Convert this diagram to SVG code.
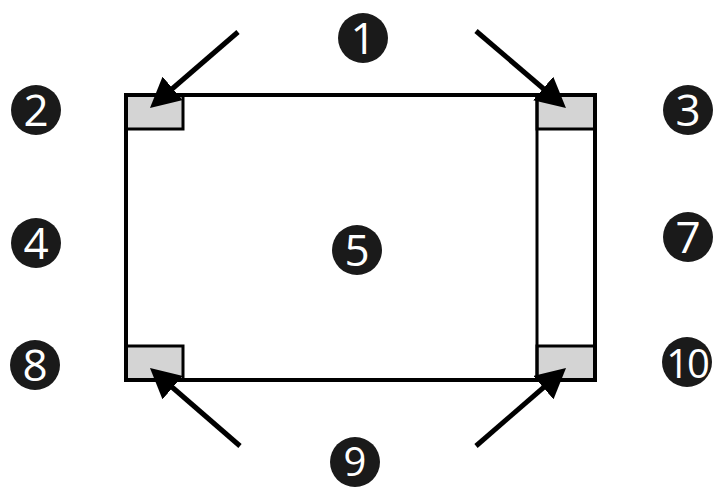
<svg xmlns="http://www.w3.org/2000/svg" width="720" height="489" viewBox="0 0 720 489">
  <style>
    .pad { fill: #d4d4d4; stroke: #000; stroke-width: 3; }
    .frame { fill: none; stroke: #000; stroke-width: 4; }
    .badge circle { fill: #1a1a1a; }
    .badge text { fill: #fff; font-family: "Open Sans", "DejaVu Sans", sans-serif; font-size: 44px; text-anchor: middle; }
    .arrow { stroke: #000; stroke-width: 5; fill: none; marker-end: url(#head); }
  </style>
  <defs>
    <marker id="head" markerUnits="userSpaceOnUse" viewBox="0 0 30 31" markerWidth="30" markerHeight="31" refX="17" refY="15.5" orient="auto">
      <path d="M0,0 L30,15.5 L0,31 z" fill="#000"/>
    </marker>
  </defs>
  <rect width="720" height="489" fill="#fff"/>

  <g id="component">
    <rect class="pad" x="126" y="95" width="57" height="34"/>
    <rect class="pad" x="537" y="95" width="58" height="34"/>
    <rect class="pad" x="126" y="346" width="57" height="34"/>
    <rect class="pad" x="537" y="346" width="58" height="34"/>
    <line x1="537" y1="95" x2="537" y2="380" stroke="#000" stroke-width="3"/>
    <rect class="frame" x="126" y="95" width="469" height="285"/>
  </g>

  <g id="connectors">
    <line class="arrow" x1="238" y1="32" x2="159.8" y2="99.5"/>
    <line class="arrow" x1="476" y1="31" x2="556.1" y2="99.5"/>
    <line class="arrow" x1="240" y1="446" x2="159.8" y2="376.5"/>
    <line class="arrow" x1="476" y1="446" x2="556.2" y2="376.5"/>
  </g>

  <g id="n1" class="badge"><circle cx="363" cy="38" r="25"/><text x="363" y="54">1</text></g>
  <g id="n2" class="badge"><circle cx="36" cy="110" r="25"/><text x="36" y="126">2</text></g>
  <g id="n3" class="badge"><circle cx="688" cy="110" r="25"/><text x="688" y="126">3</text></g>
  <g id="n4" class="badge"><circle cx="36" cy="243" r="25"/><text x="36" y="259">4</text></g>
  <g id="n5" class="badge"><circle cx="357" cy="250" r="25"/><text x="357" y="266">5</text></g>
  <g id="n7" class="badge"><circle cx="688" cy="237" r="25"/><text x="688" y="253">7</text></g>
  <g id="n8" class="badge"><circle cx="35" cy="365" r="25"/><text x="35" y="381">8</text></g>
  <g id="n9" class="badge"><circle cx="355" cy="462" r="25"/><text x="355" y="476" style="font-size:40px">9</text></g>
  <g id="n10" class="badge"><circle cx="687" cy="362" r="25"/><text x="687" y="378" style="font-size:40px;letter-spacing:-2px">10</text></g>
</svg>
